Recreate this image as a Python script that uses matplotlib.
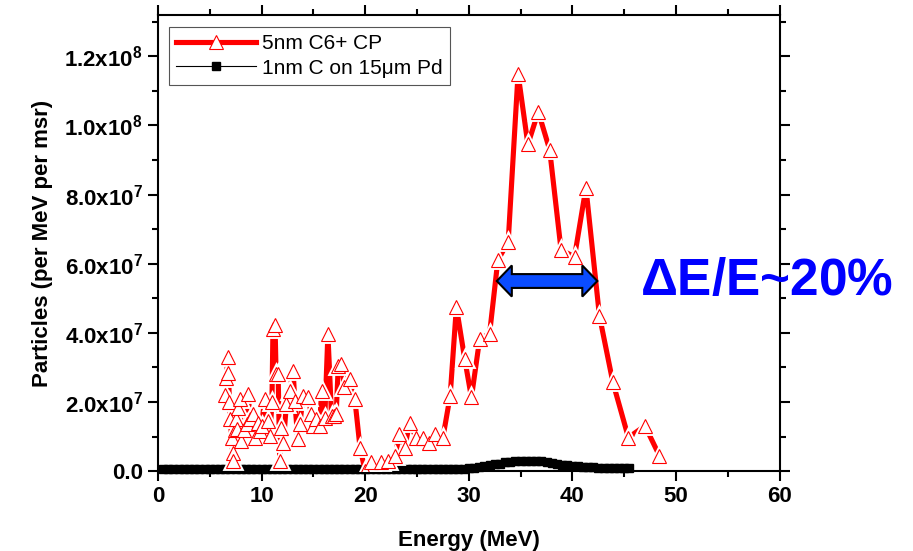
import numpy as np
import matplotlib
matplotlib.use("Agg")
import matplotlib.pyplot as plt
from matplotlib.lines import Line2D
from matplotlib.patches import Polygon
from matplotlib.ticker import MultipleLocator, FixedLocator, FixedFormatter

plt.rcParams['font.family'] = ['Liberation Sans', 'DejaVu Sans']
plt.rcParams['mathtext.fontset'] = 'custom'
plt.rcParams['mathtext.rm'] = 'Liberation Sans:bold'
plt.rcParams['mathtext.bf'] = 'Liberation Sans:bold'

###############################################################################
# Data (particles in units of 1e7)

cp_energy = [6.5, 6.6, 6.75, 6.8, 6.9, 7.0, 7.1, 7.2, 7.25, 7.4, 7.5, 7.6, 7.75,
             7.9, 8.05, 8.3, 8.55, 8.7, 8.9, 9.2, 9.4, 9.65, 9.8, 10.0, 10.3,
             10.6, 10.8, 11.0, 11.1, 11.3, 11.4, 11.6, 11.75, 11.9, 12.1, 12.4,
             12.7, 13.05, 13.2, 13.5, 13.7, 14.0, 14.5, 14.8, 15.0, 15.3, 15.6,
             15.8, 16.1, 16.4, 16.75, 17.0, 17.2, 17.4, 17.7, 18.0, 18.5, 19.0,
             19.5, 20.0, 20.6, 21.5, 22.2, 22.9, 23.3, 23.8, 24.3, 24.9, 25.6,
             26.2, 26.7, 27.5, 28.2, 28.8, 29.6, 30.25, 31.05, 32.0, 32.8, 33.8,
             34.75, 35.7, 36.7, 37.8, 38.9, 40.2, 41.3, 42.6, 43.9, 45.4, 47.0,
             48.4]
cp_counts = [2.2, 2.7, 3.3, 2.85, 2.0, 1.5, 0.97, 0.53, 0.29, 1.2, 1.5, 1.21, 1.84,
             2.1, 0.87, 1.2, 1.36, 2.23, 1.5, 1.65, 0.97, 1.4, 1.16, 1.3, 2.1,
             1.45, 1.02, 2.0, 4.12, 4.22, 2.82, 2.8, 0.29, 1.26, 0.82, 1.94,
             2.33, 2.9, 2.03, 0.92, 1.36, 2.18, 2.13, 1.65, 1.31, 1.5, 1.31,
             2.33, 1.55, 3.97, 1.6, 1.6, 1.65, 3.05, 3.1, 2.42, 2.66, 2.08,
             0.68, 0.0, 0.25, 0.25, 0.3, 0.44, 1.07, 0.68, 1.4, 0.97, 0.97,
             0.82, 1.07, 0.97, 2.18, 4.75, 3.25, 2.13, 3.83, 3.97, 6.1, 6.64,
             11.5, 9.45, 10.4, 9.3, 6.4, 6.2, 8.2, 4.5, 2.57, 0.97, 1.31,
             0.44]

pd_energy = [0.5, 1.0, 1.5, 2.0, 2.5, 3.0, 3.5, 4.0, 4.5, 5.0, 5.5, 6.0, 6.5, 7.0,
             7.5, 8.0, 8.5, 9.0, 9.5, 10.0, 10.5, 11.0, 11.5, 12.0, 12.5, 13.0,
             13.5, 14.0, 14.5, 15.0, 15.5, 16.0, 16.5, 17.0, 17.5, 18.0, 18.5,
             19.0, 19.5, 20.0, 20.5, 21.0, 21.5, 22.0, 22.5, 23.0, 23.5, 24.0,
             24.5, 25.0, 25.5, 26.0, 26.5, 27.0, 27.5, 28.0, 28.5, 29.0, 29.5,
             30.0, 30.5, 31.0, 31.5, 32.0, 32.5, 33.0, 33.5, 34.0, 34.5, 35.0,
             35.5, 36.0, 36.5, 37.0, 37.5, 38.0, 38.5, 39.0, 39.5, 40.0, 40.5,
             41.0, 41.5, 42.0, 42.5, 43.0, 43.5, 44.0, 44.5, 45.0, 45.5]
pd_counts = [0.06, 0.06, 0.06, 0.06, 0.06, 0.06, 0.06, 0.06, 0.06, 0.06, 0.06, 0.06,
             0.06, 0.06, 0.06, 0.06, 0.06, 0.06, 0.06, 0.06, 0.06, 0.06, 0.06, 0.06,
             0.06, 0.06, 0.06, 0.06, 0.06, 0.06, 0.06, 0.06, 0.06, 0.06, 0.06, 0.06,
             0.06, 0.06, 0.06, 0.06, 0.06, 0.06, 0.06, 0.06, 0.06, 0.06, 0.06, 0.06,
             0.06, 0.06, 0.06, 0.06, 0.06, 0.07, 0.07, 0.07, 0.07, 0.07, 0.07,
             0.08, 0.09, 0.11, 0.14, 0.17, 0.2, 0.22, 0.25, 0.27, 0.28, 0.29,
             0.29, 0.29, 0.28, 0.28, 0.27, 0.23, 0.2, 0.18, 0.17, 0.16, 0.15,
             0.13, 0.12, 0.11, 0.1, 0.1, 0.09, 0.09, 0.09, 0.09, 0.09]

ytick_values = [0, 2, 4, 6, 8, 10, 12]
ytick_labels = ['0.0', r'2.0x10$^{7}$', r'4.0x10$^{7}$', r'6.0x10$^{7}$',
                r'8.0x10$^{7}$', r'1.0x10$^{8}$', r'1.2x10$^{8}$']

# FWHM arrow ends (MeV) and height
fwhm_left = 32.7
fwhm_right = 42.4
fwhm_y = 5.5e7

cp_energy = np.array(cp_energy)
cp_counts = np.array(cp_counts) * 1e7
pd_energy = np.array(pd_energy)
pd_counts = np.array(pd_counts) * 1e7

###############################################################################
# Plot

fig = plt.figure(figsize=(9.13, 5.51), dpi=100)
ax = fig.add_axes([0.173, 0.145, 0.681, 0.828])

red = '#ff0000'
ax.plot(cp_energy, cp_counts, color=red, lw=3.7, zorder=3, solid_capstyle='butt')
ax.plot(cp_energy, cp_counts, ls='none', marker='^', ms=9.5, mfc='white',
        mec='white', mew=3.5, zorder=4)
ax.plot(cp_energy, cp_counts, ls='none', marker='^', ms=9.5, mfc='white',
        mec=red, mew=0.8, zorder=5)

ax.plot(pd_energy, pd_counts, color='black', lw=0.8, marker='s', ms=6,
        mfc='black', mec='black', zorder=2, clip_on=False)

# double headed block arrow showing the FWHM
shaft = 2.0e6
head = 4.5e6
head_len = 1.45
verts = [(fwhm_left, fwhm_y),
         (fwhm_left + head_len, fwhm_y + head),
         (fwhm_left + head_len, fwhm_y + shaft),
         (fwhm_right - head_len, fwhm_y + shaft),
         (fwhm_right - head_len, fwhm_y + head),
         (fwhm_right, fwhm_y),
         (fwhm_right - head_len, fwhm_y - head),
         (fwhm_right - head_len, fwhm_y - shaft),
         (fwhm_left + head_len, fwhm_y - shaft),
         (fwhm_left + head_len, fwhm_y - head)]
ax.add_patch(Polygon(verts, closed=True, facecolor='#0a4cff', edgecolor='black',
                     lw=1.5, zorder=6))

fig.text(0.84, 0.49, r'$\Delta$E/E~20%', color='#0000ff', fontsize=37,
         fontweight='bold', ha='center', va='center', zorder=10,
         family=['Liberation Sans', 'DejaVu Sans'])

ax.set_xlim(0, 60)
ax.set_ylim(0, 1.32e8)
ax.xaxis.set_major_locator(MultipleLocator(10))
ax.xaxis.set_minor_locator(MultipleLocator(5))
ax.yaxis.set_major_locator(FixedLocator([v * 1e7 for v in ytick_values]))
ax.yaxis.set_major_formatter(FixedFormatter(ytick_labels))
ax.yaxis.set_minor_locator(MultipleLocator(1e7))

ax.tick_params(which='both', direction='out', top=True, right=True, width=1.5)
ax.tick_params(which='major', length=7, labelsize=16, pad=4)
ax.tick_params(which='minor', length=4)
for lab in ax.get_xticklabels() + ax.get_yticklabels():
    lab.set_fontweight('bold')
for s in ax.spines.values():
    s.set_linewidth(1.5)

ax.set_xlabel('Energy (MeV)', fontsize=16, fontweight='bold', labelpad=16)
ax.set_ylabel('Particles (per MeV per msr)', fontsize=16, fontweight='bold',
              labelpad=8)

handles = [Line2D([], [], color=red, lw=3.7, marker='^', ms=9.5, mfc='white',
                  mec=red, mew=0.8),
           Line2D([], [], color='black', lw=0.8, marker='s', ms=6, mfc='black',
                  mec='black')]
leg = ax.legend(handles, ['5nm C6+ CP', u'1nm C on 15\u03bcm Pd'], loc='upper left',
                bbox_to_anchor=(0.018, 0.973), fontsize=15, fancybox=False,
                edgecolor='#555555', framealpha=1, handlelength=3.8,
                handletextpad=0.3, borderpad=0.35, labelspacing=0.25,
                borderaxespad=0)
leg.get_frame().set_linewidth(0.8)

plt.savefig('out.png', dpi=100)
